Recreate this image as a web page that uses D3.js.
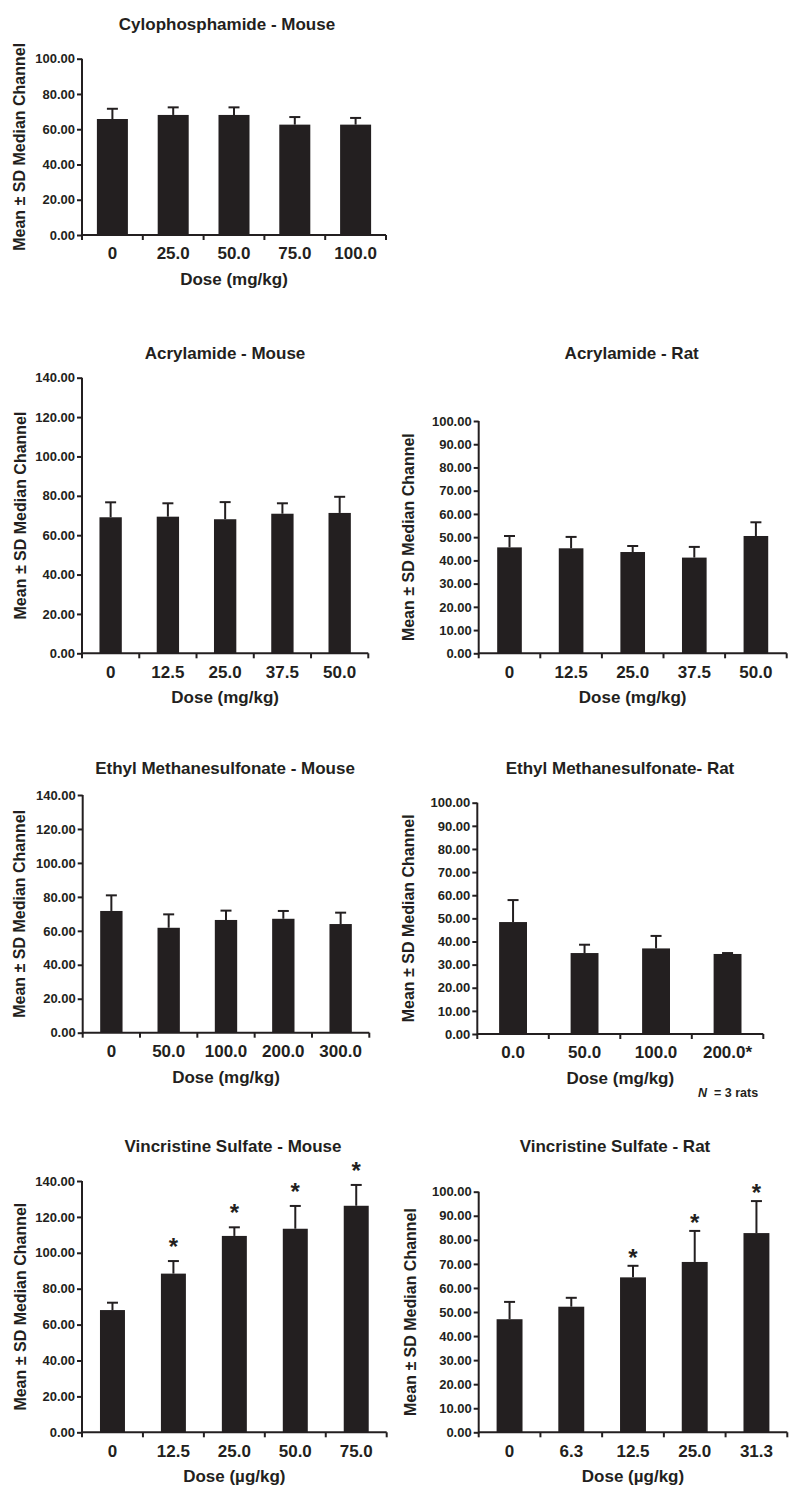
<!DOCTYPE html>
<html>
<head>
<meta charset="utf-8">
<script src="https://cdn.jsdelivr.net/npm/d3@7"></script>
<style>
  html, body { margin: 0; padding: 0; background: #fff; }
  svg { display: block; }
  text { font-family: "Liberation Sans", Arial, sans-serif; font-weight: bold; fill: #231f20; }
</style>
</head>
<body>
<svg id="chart" width="800" height="1498"></svg>
<script>
// ---------- DATA ----------
const cpDoses = ["0", "25.0", "50.0", "75.0", "100.0"];
const cpMeans = [65.8, 68.1, 68.1, 62.6, 62.6];
const cpSD    = [5.8, 4.3, 4.3, 4.3, 3.8];

const amMouseDoses = ["0", "12.5", "25.0", "37.5", "50.0"];
const amMouseMeans = [69.1, 69.4, 68.1, 70.9, 71.3];
const amMouseSD    = [7.6, 6.8, 8.7, 5.3, 8.2];

const amRatDoses = ["0", "12.5", "25.0", "37.5", "50.0"];
const amRatMeans = [45.6, 45.2, 43.6, 41.2, 50.5];
const amRatSD    = [4.9, 4.9, 2.6, 4.6, 5.9];

const emsMouseDoses = ["0", "50.0", "100.0", "200.0", "300.0"];
const emsMouseMeans = [71.7, 61.8, 66.4, 67.1, 64.0];
const emsMouseSD    = [9.2, 7.9, 5.5, 4.6, 6.7];

const emsRatDoses = ["0.0", "50.0", "100.0", "200.0*"];
const emsRatMeans = [48.4, 35.0, 37.0, 34.6];
const emsRatSD    = [9.5, 3.6, 5.4, 0.4];

const vsMouseDoses = ["0", "12.5", "25.0", "50.0", "75.0"];
const vsMouseMeans = [68.1, 88.4, 109.4, 113.4, 126.2];
const vsMouseSD    = [4.1, 7.0, 4.8, 12.7, 11.6];
const vsMouseSig   = [false, true, true, true, true];

const vsRatDoses = ["0", "6.3", "12.5", "25.0", "31.3"];
const vsRatMeans = [47.0, 52.2, 64.4, 70.8, 82.8];
const vsRatSD    = [7.2, 3.7, 4.8, 12.9, 13.3];
const vsRatSig   = [false, false, true, true, true];

const ticks0to100by20 = [0, 20, 40, 60, 80, 100];
const ticks0to140by20 = [0, 20, 40, 60, 80, 100, 120, 140];
const ticks0to100by10 = [0, 10, 20, 30, 40, 50, 60, 70, 80, 90, 100];

const yAxisTitle = "Mean \u00B1 SD Median Channel";
const xTitleMg = "Dose (mg/kg)";
const xTitleUg = "Dose (\u00B5g/kg)";

// ---------- PANELS (data refs + layout) ----------
const panels = [
  { title: "Cylophosphamide - Mouse", doses: cpDoses, means: cpMeans, sd: cpSD, sig: null,
    yTicks: ticks0to100by20, xTitle: xTitleMg,
    L: { x0: 82, x1: 386, y0: 235, y1: 58.7, barFrac: 0.51, titleX: 227, titleY: 24, ylabX: 19 } },
  { title: "Acrylamide - Mouse", doses: amMouseDoses, means: amMouseMeans, sd: amMouseSD, sig: null,
    yTicks: ticks0to140by20, xTitle: xTitleMg,
    L: { x0: 82, x1: 368.3, y0: 653.3, y1: 377.7, barFrac: 0.39, titleX: 225, titleY: 352.7, ylabX: 20 } },
  { title: "Acrylamide - Rat", doses: amRatDoses, means: amRatMeans, sd: amRatSD, sig: null,
    yTicks: ticks0to100by10, xTitle: xTitleMg,
    L: { x0: 478.7, x1: 786.7, y0: 653.3, y1: 421, barFrac: 0.40, titleX: 631.7, titleY: 352.7, ylabX: 408 } },
  { title: "Ethyl Methanesulfonate - Mouse", doses: emsMouseDoses, means: emsMouseMeans, sd: emsMouseSD, sig: null,
    yTicks: ticks0to140by20, xTitle: xTitleMg,
    L: { x0: 82.7, x1: 369.3, y0: 1032.7, y1: 795, barFrac: 0.39, titleX: 225, titleY: 768.3, ylabX: 19.5 } },
  { title: "Ethyl Methanesulfonate- Rat", doses: emsRatDoses, means: emsRatMeans, sd: emsRatSD, sig: null,
    yTicks: ticks0to100by10, xTitle: xTitleMg,
    L: { x0: 477.3, x1: 763.3, y0: 1034, y1: 802.7, barFrac: 0.39, titleX: 620, titleY: 768.3, ylabX: 408.5 } },
  { title: "Vincristine Sulfate - Mouse", doses: vsMouseDoses, means: vsMouseMeans, sd: vsMouseSD, sig: vsMouseSig,
    yTicks: ticks0to140by20, xTitle: xTitleUg,
    L: { x0: 82, x1: 386.7, y0: 1432.3, y1: 1181, barFrac: 0.41, titleX: 233, titleY: 1146, ylabX: 20, starLift: 6 } },
  { title: "Vincristine Sulfate - Rat", doses: vsRatDoses, means: vsRatMeans, sd: vsRatSD, sig: vsRatSig,
    yTicks: ticks0to100by10, xTitle: xTitleUg,
    L: { x0: 478.7, x1: 787.3, y0: 1432.3, y1: 1191.7, barFrac: 0.42, titleX: 615, titleY: 1146, ylabX: 410, starLift: 0 } }
];

const ink = "#231f20";
const svg = d3.select("#chart");
svg.append("rect").attr("width", 800).attr("height", 1498).attr("fill", "#fff");

panels.forEach(p => {
  const L = p.L;
  const g = svg.append("g");
  const yMax = p.yTicks[p.yTicks.length - 1];
  const y = d3.scaleLinear().domain([0, yMax]).range([L.y0, L.y1]);
  const x = d3.scaleBand().domain(p.doses).range([L.x0, L.x1]).padding(0);
  const bw = x.bandwidth() * L.barFrac;
  const cx = d => x(d) + x.bandwidth() / 2;

  // bars
  g.selectAll("rect.bar").data(p.doses).enter().append("rect")
    .attr("x", d => cx(d) - bw / 2)
    .attr("y", (d, i) => y(p.means[i]))
    .attr("width", bw)
    .attr("height", (d, i) => y(0) - y(p.means[i]))
    .attr("fill", ink);

  // error bars (upper only)
  const capW = 11;
  g.selectAll("line.err").data(p.doses).enter().append("line")
    .attr("x1", d => cx(d)).attr("x2", d => cx(d))
    .attr("y1", (d, i) => y(p.means[i]))
    .attr("y2", (d, i) => y(p.means[i] + p.sd[i]))
    .attr("stroke", ink).attr("stroke-width", 2);
  g.selectAll("line.cap").data(p.doses).enter().append("line")
    .attr("x1", d => cx(d) - capW / 2).attr("x2", d => cx(d) + capW / 2)
    .attr("y1", (d, i) => y(p.means[i] + p.sd[i]))
    .attr("y2", (d, i) => y(p.means[i] + p.sd[i]))
    .attr("stroke", ink).attr("stroke-width", 2);

  // significance stars
  if (p.sig) {
    g.selectAll("text.star").data(p.doses.filter((d, i) => p.sig[i])).enter().append("text")
      .attr("x", d => cx(d))
      .attr("y", d => { const i = p.doses.indexOf(d); return y(p.means[i] + p.sd[i]) - L.starLift; })
      .attr("text-anchor", "middle")
      .style("font-size", "24px")
      .text("*");
  }

  // y axis
  const yAxis = d3.axisLeft(y).tickValues(p.yTicks).tickFormat(d3.format(".2f")).tickSize(5).tickPadding(2);
  const ya = g.append("g").attr("transform", `translate(${L.x0},0)`).call(yAxis);
  ya.select(".domain").attr("stroke", ink).attr("stroke-width", 2)
    .attr("d", `M0,${L.y0 + 1}V${L.y1}`);
  ya.selectAll(".tick line").attr("stroke", ink).attr("stroke-width", 2);
  ya.selectAll(".tick text").style("font-size", "13px").style("font-family", "'Liberation Sans', Arial, sans-serif")
    .style("font-weight", "bold").attr("fill", ink);

  // x axis: line with ticks at band boundaries
  const edges = p.doses.map(d => x(d)).concat([x.range()[1]]);
  g.append("line").attr("x1", L.x0).attr("x2", L.x1).attr("y1", L.y0).attr("y2", L.y0)
    .attr("stroke", ink).attr("stroke-width", 2);
  g.selectAll("line.xt").data(edges).enter().append("line")
    .attr("x1", d => d).attr("x2", d => d).attr("y1", L.y0).attr("y2", L.y0 + 5)
    .attr("stroke", ink).attr("stroke-width", 2);
  g.selectAll("text.xl").data(p.doses).enter().append("text")
    .attr("x", d => cx(d)).attr("y", L.y0 + 18.5).attr("dy", "0.35em")
    .attr("text-anchor", "middle").style("font-size", "17px").text(d => d);

  // axis titles
  g.append("text").attr("x", (L.x0 + L.x1) / 2).attr("y", L.y0 + 44).attr("dy", "0.35em")
    .attr("text-anchor", "middle").style("font-size", "17px").text(p.xTitle);
  g.append("text").attr("transform", `translate(${L.ylabX},${(L.y0 + L.y1) / 2}) rotate(-90)`)
    .attr("dy", "0.35em").attr("text-anchor", "middle").style("font-size", "16px").text(yAxisTitle);

  // panel title
  g.append("text").attr("x", L.titleX).attr("y", L.titleY).attr("dy", "0.35em")
    .attr("text-anchor", "middle").style("font-size", "17px").text(p.title);
});

// footnote
const fn = svg.append("text").attr("x", 698).attr("y", 1093).attr("dy", "0.35em").style("font-size", "12.5px");
fn.append("tspan").style("font-style", "italic").text("N");
fn.append("tspan").text("  = 3 rats").attr("xml:space", "preserve");
</script>
</body>
</html>
